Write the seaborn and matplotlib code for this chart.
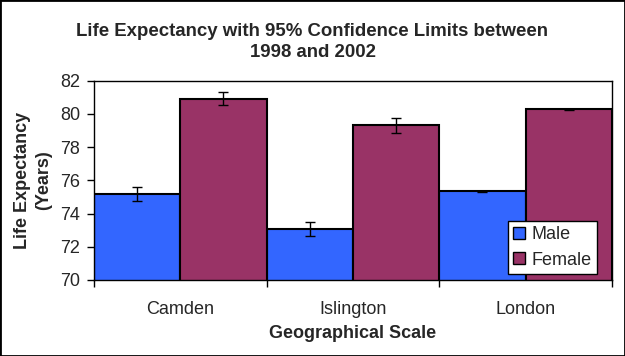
import matplotlib
matplotlib.use("Agg")
import matplotlib.pyplot as plt
import seaborn as sns
import pandas as pd
from matplotlib.patches import Rectangle, Patch

areas = ["Camden", "Islington", "London"]
male = [75.15, 73.05, 75.33]
female = [80.92, 79.32, 80.27]
male_ci = [0.42, 0.42, 0.03]
female_ci = [0.40, 0.46, 0.03]
y_ticks = [70, 72, 74, 76, 78, 80, 82]

df = pd.DataFrame({
    "Area": areas * 2,
    "Sex": ["Male"] * 3 + ["Female"] * 3,
    "Value": male + female,
    "CI": male_ci + female_ci,
})

sns.set_style("white")
plt.rcParams["font.family"] = ["Liberation Sans", "DejaVu Sans"]

fig = plt.figure(figsize=(6.25, 3.56), dpi=100)
fig.patch.set_facecolor("white")
ax = fig.add_axes([94 / 625, 1 - 280 / 356, (612 - 94) / 625, (280 - 80.7) / 356])

palette = {"Male": "#3366FF", "Female": "#993366"}
sns.barplot(data=df, x="Area", y="Value", hue="Sex", palette=palette, ax=ax,
            width=1.0, gap=0, edgecolor="black", linewidth=1.5, errorbar=None,
            saturation=1)

# error bars at bar centres
cis = {"Male": male_ci, "Female": female_ci}
for container, sex in zip(ax.containers, ["Male", "Female"]):
    xs = [p.get_x() + p.get_width() / 2 for p in container.patches]
    hs = [p.get_height() for p in container.patches]
    ax.errorbar(xs, hs, yerr=cis[sex], fmt="none", ecolor="black",
                elinewidth=1, capsize=3.5, capthick=1, zorder=5)

ax.set_ylim(70, 82)
ax.set_xlim(-0.5, 2.5)
ax.set_yticks(y_ticks)
ax.tick_params(axis="y", which="major", direction="out", length=5, width=1,
               color="black", labelsize=13, pad=5, left=True)
ax.tick_params(axis="x", which="major", length=0, labelsize=13, pad=15)
ax.set_xticks([-0.5, 0.5, 1.5, 2.5], minor=True)
ax.tick_params(axis="x", which="minor", direction="out", length=5, width=1,
               color="black", bottom=True)
for s in ax.spines.values():
    s.set_color("black")
    s.set_linewidth(1)

ax.set_xlabel("Geographical Scale", fontsize=13, fontweight="bold", labelpad=5)
ax.set_ylabel("Life Expectancy\n(Years)", fontsize=13, fontweight="bold",
              labelpad=6, linespacing=1.3)
fig.text(0.5, 1 - 42 / 356, "Life Expectancy with 95% Confidence Limits between\n1998 and 2002",
         ha="center", va="center", fontsize=13.4, fontweight="bold", linespacing=1.3)

handles = [Patch(facecolor=palette[s], edgecolor="black", linewidth=1) for s in ["Male", "Female"]]
leg = ax.legend(handles, ["Male", "Female"], loc="lower left",
                bbox_to_anchor=((508 - 94) / 518, (280 - 274) / 199.3),
                fontsize=13, frameon=True, fancybox=False, framealpha=1,
                edgecolor="black", handlelength=0.65, handleheight=0.65,
                handletextpad=0.35, borderpad=0.3, labelspacing=0.45,
                borderaxespad=0)
leg.get_frame().set_linewidth(1)

fig.add_artist(Rectangle((0, 0), 1, 1, transform=fig.transFigure, fill=False,
                         edgecolor="black", linewidth=2))

fig.savefig("out.png", dpi=100, facecolor="white")
